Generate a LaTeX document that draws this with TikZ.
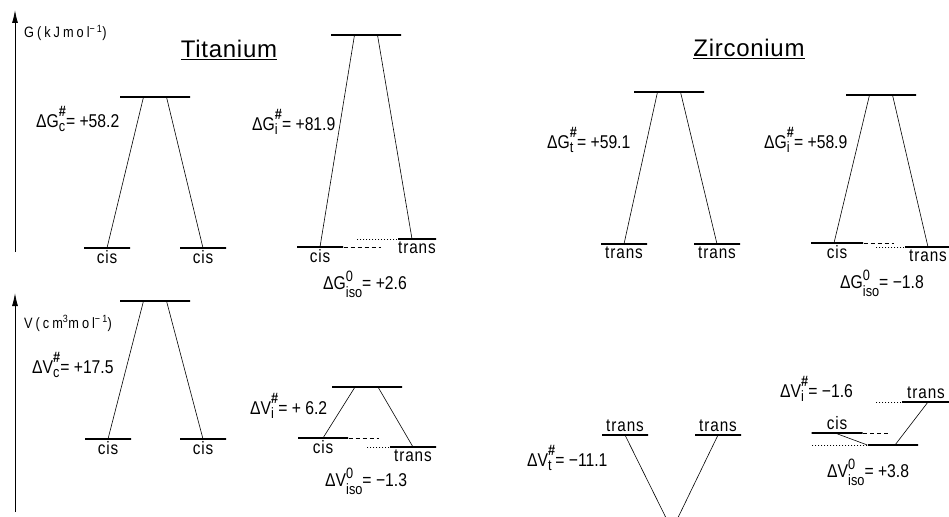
\documentclass[tikz,border=0pt]{standalone}
\usepackage{fontspec}
\setmainfont[FakeStretch=0.85]{Liberation Sans}
\newfontfamily\titlefont[LetterSpace=3]{Liberation Sans}
\usetikzlibrary{arrows.meta, positioning}

% stacked super- and subscript
\newcommand{\idxbox}[4]{%
  \setbox0=\hbox{\fontsize{15}{15}\selectfont #1}%
  \setbox2=\hbox{\fontsize{15}{15}\selectfont #2}%
  \dimen0=\wd0 \ifdim\wd2>\dimen0 \dimen0=\wd2\fi
  \makebox[\dimen0][l]{\rlap{\raisebox{#3}{\copy0}}\raisebox{-#4}{\copy2}}}
\newcommand{\ts}[1]{\idxbox{\textbf{\#}}{#1}{11pt}{4pt}}
\newcommand{\isozero}{\idxbox{0}{iso}{8pt}{8pt}}

\begin{document}
\begin{tikzpicture}[
    x=1pt, y=-1pt,
    level/.style={rectangle, draw, line width=1.3pt, minimum width=46pt, minimum height=0pt, inner sep=0pt},
    toplevel/.style={level, minimum width=70pt},
    lab/.style={font=\fontsize{18}{20}\selectfont\addfontfeatures{LetterSpace=5}, inner sep=0pt, label distance=2pt},
    qty/.style={font=\fontsize{18.5}{20}\selectfont, inner sep=0pt, anchor=base west},
    title/.style={font=\titlefont\fontsize{24}{26}\selectfont, inner sep=0pt},
    axislabel/.style={font=\fontsize{15}{16}\selectfont\addfontfeatures{LetterSpace=20}, inner sep=0pt, anchor=base west},
    link/.style={line width=0.6pt},
    dashline/.style={line width=0.6pt, dash pattern=on 4pt off 3pt},
    dotline/.style={line width=0.6pt, dash pattern=on 1.5pt off 1.5pt},
    axis/.style={-{Latex[length=13pt, width=6pt]}, line width=0.9pt}
]
    \path[use as bounding box, clip] (0,0) rectangle (949,516);

    % axes
    \coordinate (g0) at (15,252);
    \coordinate (g1) at (15,10);
    \draw[axis] (g0) -- (g1);
    \node[axislabel] (glabel) at (24,38) {G(kJmol\textsuperscript{−1})};
    \coordinate (v0) at (15,512);
    \coordinate (v1) at (15,293);
    \draw[axis] (v0) -- (v1);
    \node[axislabel] (vlabel) at (24,328) {V(cm\textsuperscript{3}mol\textsuperscript{−1})};

    % titles
    \node[title] (ti) at (229,50) {\underline{Titanium}};
    \node[title] (zr) at (749,49) {\underline{Zirconium}};

    % Titanium, G, cis/cis
    \node[toplevel] (tgc) at (155,97) {};
    \node[level, label={[lab]below:cis}] (tgc1) at (107,248) {};
    \node[level, label={[lab]below:cis}] (tgc2) at (203,248) {};
    \draw[link] (tgc1.center) -- ([xshift=-11.5]tgc.center);
    \draw[link] ([xshift=11.5]tgc.center) -- (tgc2.center);
    \node[qty] (dgc) at (36,128) {ΔG\ts{c}= +58.2};

    % Titanium, G, cis/trans
    \node[toplevel] (tgi) at (366,35) {};
    \node[level, label={[lab]below:cis}] (tgi1) at (320,247) {};
    \node[level, minimum width=38pt, label={[lab]below:trans}] (tgi2) at (417,239) {};
    \draw[link] (tgi1.center) -- ([xshift=-11.5]tgi.center);
    \draw[link] ([xshift=11.5]tgi.center) -- ([xshift=-5]tgi2.center);
    \draw[dashline] (tgi1.east) -- ++(37,0);
    \draw[dotline] (tgi2.west) -- ++(-42,0);
    \node[qty] (dgi) at (252,130) {ΔG\ts{i}= +81.9};
    \node[qty] (dgiso) at (323,289) {ΔG\isozero= +2.6};

    % Zirconium, G, trans/trans
    \node[toplevel] (zgt) at (669,92) {};
    \node[level, label={[lab]below:trans}] (zgt1) at (624,244) {};
    \node[level, label={[lab]below:trans}] (zgt2) at (717,244) {};
    \draw[link] (zgt1.center) -- ([xshift=-11.5]zgt.center);
    \draw[link] ([xshift=11.5]zgt.center) -- (zgt2.center);
    \node[qty] (dgt) at (547,148) {ΔG\ts{t}= +59.1};

    % Zirconium, G, cis/trans
    \node[toplevel] (zgi) at (881,95) {};
    \node[level, minimum width=52pt, label={[lab]below:cis}] (zgi1) at (837,243) {};
    \node[level, label={[lab]below:trans}] (zgi2) at (928,247) {};
    \draw[link] ([xshift=-3]zgi1.center) -- ([xshift=-11.5]zgi.center);
    \draw[link] ([xshift=11.5]zgi.center) -- (zgi2.center);
    \draw[dashline] (zgi1.east) -- ++(30,0);
    \draw[dotline] (zgi2.west) -- ++(-30,0);
    \node[qty] (zdgi) at (764,148) {ΔG\ts{i}= +58.9};
    \node[qty] (zdgiso) at (840,288) {ΔG\isozero= −1.8};

    % Titanium, V, cis/cis
    \node[toplevel] (tvc) at (155,301) {};
    \node[level, label={[lab]below:cis}] (tvc1) at (108,439) {};
    \node[level, label={[lab]below:cis}] (tvc2) at (203,439) {};
    \draw[link] (tvc1.center) -- ([xshift=-11.5]tvc.center);
    \draw[link] ([xshift=11.5]tvc.center) -- (tvc2.center);
    \node[qty] (dvc) at (32,373) {ΔV\ts{c}= +17.5};

    % Titanium, V, cis/trans
    \node[toplevel] (tvi) at (367,387) {};
    \node[level, minimum width=50pt, label={[lab]below:cis}] (tvi1) at (323,438) {};
    \node[level, label={[lab]below:trans}] (tvi2) at (413,447) {};
    \draw[link] (tvi1.center) -- ([xshift=-12]tvi.center);
    \draw[link] ([xshift=11]tvi.center) -- (tvi2.center);
    \draw[dashline] (tvi1.east) -- ++(30,0);
    \draw[dotline] (tvi2.west) -- ++(-24,0);
    \node[qty] (dvi) at (250,414) {ΔV\ts{i}= + 6.2};
    \node[qty] (dviso) at (325,486) {ΔV\isozero= −1.3};

    % Zirconium, V, trans/trans
    \node[level, label={[lab]above:trans}] (zvt1) at (625,435) {};
    \node[level, label={[lab]above:trans}] (zvt2) at (718,435) {};
    \coordinate (zvt) at (672,530);
    \draw[link] (zvt1.center) -- (zvt);
    \draw[link] (zvt2.center) -- (zvt);
    \node[qty] (dvt) at (527,466) {ΔV\ts{t}= −11.1};

    % Zirconium, V, cis/trans
    \node[level, minimum width=51pt, label={[lab]above:cis}] (zvi1) at (837,433) {};
    \node[level, minimum width=50pt] (zvi) at (893,445) {};
    \node[level, minimum width=48pt, label={[lab]above:trans}] (zvi2) at (926,402) {};
    \draw[link] ([xshift=-2]zvi1.center) -- (zvi.west);
    \draw[link] ([xshift=2]zvi.center) -- ([xshift=2]zvi2.center);
    \draw[dashline] (zvi1.east) -- ++(27,0);
    \draw[dotline] (zvi2.west) -- ++(-25,0);
    \draw[dotline] (zvi.west) -- ++(-56,0);
    \node[qty] (zdvi) at (780,397) {ΔV\ts{i}= −1.6};
    \node[qty] (zdviso) at (827,477) {ΔV\isozero= +3.8};

\end{tikzpicture}
\end{document}
